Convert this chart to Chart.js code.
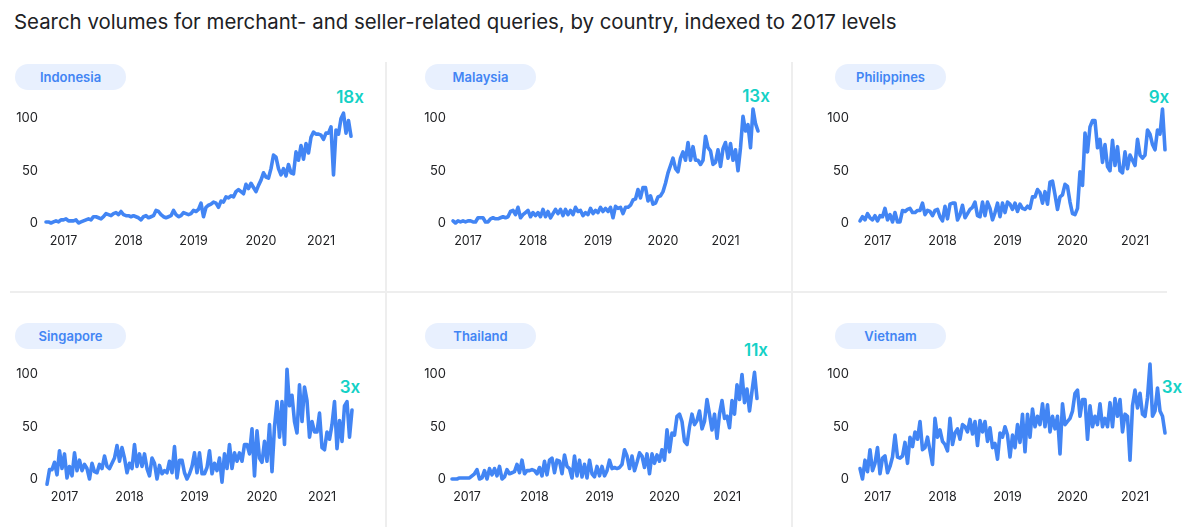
<!DOCTYPE html>
<html>
<head>
<meta charset="utf-8">
<title>Search volumes by country</title>
<script src="https://cdn.jsdelivr.net/npm/chart.js@4"></script>
<style>
    html, body { margin: 0; padding: 0; background: #fff; }
    body { position: relative; width: 1200px; height: 527px; overflow: hidden; font-family: Inter, sans-serif; }
    canvas { position: absolute; }
    #title { position: absolute; left: 14px; top: 9px; font: 20.4px Inter, sans-serif; color: #202124; white-space: nowrap; }
    .pill { position: absolute; width: 111px; height: 26px; line-height: 26px; border-radius: 13px; background: #e8f0fe;
            color: #4285f4; font-size: 13px; font-weight: 600; text-align: center; }
    .mult { position: absolute; width: 50px; margin-left: -25px; text-align: center; color: #14d1c6; font-size: 17px; font-weight: 600; line-height: 20px; }
    .rule { position: absolute; background: #eeeeee; }
</style>
</head>
<body>
<div id="title">Search volumes for merchant- and seller-related queries, by country, indexed to 2017 levels</div>
<div class="rule" style="left:385px; top:62px; width:2px; height:465px"></div>
<div class="rule" style="left:791px; top:62px; width:2px; height:465px"></div>
<div class="rule" style="left:10px; top:291px; width:1157px; height:2px"></div>
<script>
    // All values, roughly two weeks apart, index 100 = peak
    const yearLabels = ['2017', '2018', '2019', '2020', '2021'];
    const yTicks = [0, 50, 100];

    const indonesia = [1,1,0,1,2,1,3,3,4,2, 2,2,3,0,1,2,3,4,3,6, 6,5,4,6,9,8,7,9,10,8,
        11,8,7,7,6,7,6,5,3,6, 7,5,6,7,12,11,8,6,5,6, 7,12,8,6,7,10,9,8,9,12,
        11,13,19,6,15,17,18,20,19,15, 21,20,25,24,26,25,30,32,30,28, 37,33,38,34,30,36,41,48,44,43,
        52,65,63,52,46,52,45,56,48,47, 68,60,74,61,76,67,82,87,85,85, 84,80,86,86,92,46,89,85,100,105,86,98,83];
    const malaysia = [2,0,2,1,2,1,2,2,1,1, 5,5,5,1,1,4,5,4,4,5, 6,5,6,11,12,8,15,5,8,10,
        12,6,10,7,10,6,13,6,11,5, 9,13,9,13,7,13,8,12,8,15, 11,12,7,10,8,14,9,12,10,15,
        11,14,11,15,5,16,14,15,9,15, 15,17,22,23,32,24,34,34,21,26, 18,19,25,26,30,38,48,55,62,52,
        49,62,68,60,77,60,73,60,60,56, 60,83,72,69,56,58,70,54,71,77, 62,76,60,70,50,72,102,88,94,72,109,95,88];
    const philippines = [2,6,3,9,5,3,7,2,7,6, 14,3,8,1,10,1,1,12,11,13, 14,10,10,12,12,19,8,12,11,7,
        12,13,6,2,16,4,18,19,19,3, 8,17,5,9,13,15,20,7,6,20, 7,20,14,3,10,19,6,19,10,20,
        18,13,19,11,18,14,13,16,14,25, 25,32,29,19,30,18,39,40,27,13, 25,27,37,35,20,9,8,14,49,36,
        86,68,92,98,98,72,80,58,75,54, 50,79,55,73,50,48,68,52,65,60, 55,80,65,62,65,89,85,75,70,89,85,109,70];
    const singapore = [-5,9,9,16,4,27,10,24,1,12, 3,25,8,18,8,14,10,0,15,7, 6,14,10,22,12,10,15,20,32,17,
        30,20,6,15,10,33,12,24,12,24, 10,3,20,15,0,13,5,8,6,17, 6,31,1,18,18,6,0,5,12,25,
        6,25,5,5,11,27,5,15,8,20, -3,24,10,33,10,25,17,25,17,33, 33,24,48,3,46,20,16,36,17,52,
        7,50,74,40,74,33,105,70,80,55, 44,90,55,88,75,40,55,45,45,63, 30,28,45,38,52,74,29,56,36,70,74,40,66];
    const thailand = [0,0,0,1,1,1,1,1,3,5, 9,0,1,8,0,10,4,10,3,12, 0,2,9,5,6,7,14,6,18,5,
        8,8,9,8,5,11,3,17,4,18, 20,6,18,17,5,23,12,10,1,22, 3,18,2,14,1,18,5,2,12,3,
        12,3,8,18,10,11,10,11,14,28, 22,10,22,8,16,25,22,11,24,5, 24,15,23,17,28,18,47,26,44,42,
        60,62,55,36,33,50,62,52,56,65, 48,55,76,62,47,62,39,62,75,58, 60,49,75,62,90,76,100,73,86,65,84,102,77];
    const vietnam = [10,0,18,7,28,8,15,30,5,20, 22,6,12,21,42,21,20,22,35,15, 40,31,45,38,55,28,30,40,27,14,
        58,40,47,36,33,27,58,33,44,48, 38,52,50,45,57,43,55,32,56,45, 55,36,49,30,34,19,44,40,50,42,
        21,42,30,52,35,62,26,62,40,67, 50,60,52,72,50,71,45,60,48,60, 24,72,52,55,58,65,82,85,60,76,
        76,38,70,50,60,52,72,50,58,50, 73,50,77,60,76,45,62,60,18,70, 85,68,82,62,60,78,110,60,65,87,65,60,44];

    // name, values, pill, multiplier, where the zero line starts, and index of each year label
    const panels = [
        { name: 'Indonesia',   values: indonesia,   mult: '18x', multX: 350,  multY: 97,  pillX: 15,  pillY: 64,  x0: 46,  y0: 223, pad: 8,  years: [7, 33, 59, 86, 110] },
        { name: 'Malaysia',    values: malaysia,    mult: '13x', multX: 756,  multY: 96,  pillX: 425, pillY: 64,  x0: 453, y0: 223, pad: 7,  years: [6, 32, 58, 84, 109] },
        { name: 'Philippines', values: philippines, mult: '9x',  multX: 1159, multY: 97,  pillX: 835, pillY: 64,  x0: 860, y0: 223, pad: 11, years: [7, 33, 59, 85, 110] },
        { name: 'Singapore',   values: singapore,   mult: '3x',  multX: 350,  multY: 387, pillX: 15,  pillY: 323, x0: 47,  y0: 479, pad: 9,  years: [7, 33, 59, 86, 110] },
        { name: 'Thailand',    values: thailand,    mult: '11x', multX: 756,  multY: 350, pillX: 425, pillY: 323, x0: 452, y0: 479, pad: 6,  years: [6, 33, 59, 85, 110] },
        { name: 'Vietnam',     values: vietnam,     mult: '3x',  multX: 1172, multY: 387, pillX: 835, pillY: 323, x0: 860, y0: 479, pad: 11, years: [7, 33, 59, 85, 110] }
    ];

    const axisLeft = 46;      // width kept for the y labels
    const axisBottom = 30;    // height kept for the year labels
    const plotWidth = 305;
    const plotHeight = 115;   // 0..110 at about 1.05 px per index point
    const plotTop = 24;       // tick padding eats into the top, so leave room

    function addText(className, text, left, top) {
        const el = document.createElement('div');
        el.className = className;
        el.textContent = text;
        el.style.left = left + 'px';
        el.style.top = top + 'px';
        document.body.appendChild(el);
    }

    function createChart(panel) {
        addText('pill', panel.name, panel.pillX, panel.pillY);
        addText('mult', panel.mult, panel.multX, panel.multY - 10);

        const canvas = document.createElement('canvas');
        canvas.width = axisLeft + plotWidth + 12;
        canvas.height = plotTop + plotHeight + axisBottom;
        canvas.style.left = (panel.x0 - axisLeft) + 'px';
        canvas.style.top = (panel.y0 - plotHeight - plotTop) + 'px';
        document.body.appendChild(canvas);

        // blank label everywhere except where a year goes
        const labels = panel.values.map((v, i) => {
            const at = panel.years.indexOf(i);
            return at >= 0 ? yearLabels[at] : '';
        });

        new Chart(canvas, {
            type: 'line',
            data: {
                labels: labels,
                datasets: [{
                    data: panel.values,
                    borderColor: '#4285f4',
                    borderWidth: 3.6,
                    pointRadius: 0,
                    tension: 0,
                    clip: false,
                    borderJoinStyle: 'round',
                    borderCapStyle: 'round'
                }]
            },
            options: {
                responsive: false,
                animation: false,
                layout: { padding: { top: plotTop, right: 12, left: 0, bottom: 0 } },
                plugins: { legend: { display: false }, tooltip: { enabled: false } },
                scales: {
                    x: {
                        grid: { display: false, drawTicks: false },
                        border: { display: false },
                        afterFit: scale => { scale.height = axisBottom; },
                        ticks: {
                            autoSkip: false,
                            maxRotation: 0,
                            padding: 11,
                            color: '#202124',
                            font: { family: 'Inter', size: 12.5 }
                        }
                    },
                    y: {
                        min: 0,
                        max: 110,
                        grid: { display: false, drawTicks: false },
                        border: { display: false },
                        afterFit: scale => { scale.width = axisLeft; },
                        afterBuildTicks: scale => { scale.ticks = yTicks.map(v => ({ value: v })); },
                        ticks: {
                            padding: panel.pad,
                            color: '#202124',
                            font: { family: 'Inter', size: 13 }
                        }
                    }
                }
            }
        });
    }

    panels.forEach(createChart);
</script>
</body>
</html>
